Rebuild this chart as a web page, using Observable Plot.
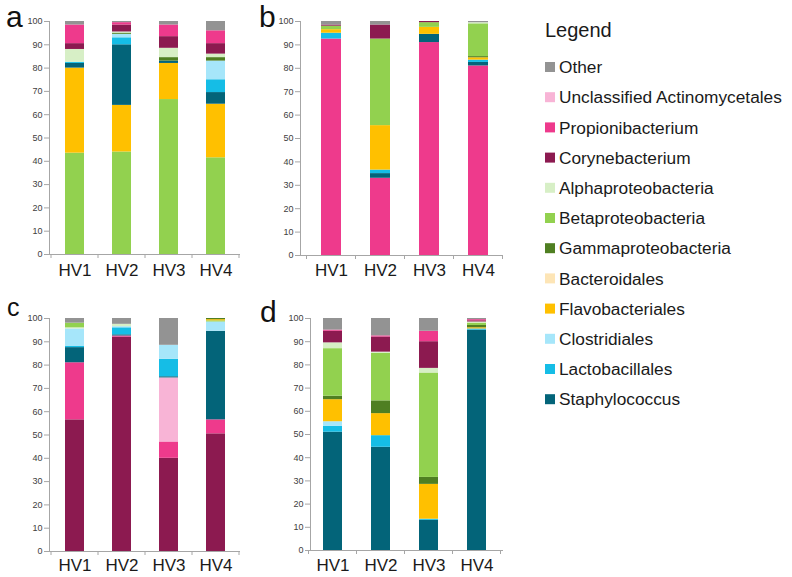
<!DOCTYPE html>
<html>
<head>
<meta charset="utf-8">
<script src="https://cdn.jsdelivr.net/npm/d3@7"></script>
<script src="https://cdn.jsdelivr.net/npm/@observablehq/plot@0.6"></script>
<style>
  body { margin: 0; background: #fff; }
  #chart { position: relative; width: 792px; height: 577px; font-family: "Liberation Sans", Arial, sans-serif; }
  #chart > svg, #chart > div { position: absolute; }
</style>
</head>
<body>
<div id="chart"></div>
<script>
// ---------- data ----------
const samples = ["HV1", "HV2", "HV3", "HV4"];
const yTicks = [0, 10, 20, 30, 40, 50, 60, 70, 80, 90, 100];

const taxa = ["Other", "Unclassified Actinomycetales", "Propionibacterium", "Corynebacterium",
  "Alphaproteobacteria", "Betaproteobacteria", "Gammaproteobacteria", "Bacteroidales",
  "Flavobacteriales", "Clostridiales", "Lactobacillales", "Staphylococcus"];
const taxonColors = ["#939393", "#f8b4d6", "#ee3a8c", "#8c1a50", "#d7efc6", "#92d14f",
  "#4f7f22", "#fde5b6", "#ffc000", "#a6e6fa", "#15bde6", "#036479"];

const panelLetters = ["a", "b", "c", "d"];

// panel a (bottom to top), values per sample HV1..HV4
const orderA = ["Betaproteobacteria", "Flavobacteriales", "Staphylococcus", "Lactobacillales",
  "Clostridiales", "Gammaproteobacteria", "Alphaproteobacteria", "Corynebacterium",
  "Propionibacterium", "Other"];
const valuesA = [
  [43.5, 44, 66.5, 41.5],
  [36.5, 20, 15.5, 23],
  [2, 26, 1, 5],
  [0.5, 3, 0, 5.5],
  [0, 1.5, 0, 8],
  [0, 0.5, 1.5, 1.5],
  [5.5, 0.5, 4, 1.5],
  [2.5, 3, 5, 4.5],
  [8, 1, 5, 5.5],
  [1.5, 0.5, 1.5, 4]
];

// panel b
const orderB = ["Propionibacterium", "Staphylococcus", "Lactobacillales", "Flavobacteriales",
  "Gammaproteobacteria", "Betaproteobacteria", "Alphaproteobacteria", "Corynebacterium", "Other"];
const valuesB = [
  [92.5, 33, 91, 81],
  [0, 2, 3.5, 1.5],
  [2.5, 1.5, 0, 1],
  [1.5, 19, 3, 1],
  [0, 0, 0, 0.5],
  [1.5, 37, 2, 14],
  [0, 0, 0, 0.5],
  [0.5, 6, 0.5, 0],
  [1.5, 1.5, 0, 0.5]
];

// panel c
const orderC = ["Corynebacterium", "Propionibacterium", "Unclassified Actinomycetales",
  "Staphylococcus", "Lactobacillales", "Clostridiales", "Alphaproteobacteria",
  "Betaproteobacteria", "Flavobacteriales", "Gammaproteobacteria", "Other"];
const valuesC = [
  [56.5, 92, 40, 50.5],
  [24.5, 0.5, 7, 6],
  [0, 0, 27.5, 0],
  [6.5, 0.5, 0.5, 38],
  [0.5, 3, 7.5, 0],
  [7.5, 0.5, 6, 4],
  [0.5, 1, 0, 0],
  [2, 0, 0, 0.5],
  [0, 0, 0, 0.5],
  [0, 0, 0, 0.5],
  [2, 2.5, 11.5, 0]
];

// panel d
const orderD = ["Staphylococcus", "Lactobacillales", "Clostridiales", "Flavobacteriales",
  "Bacteroidales", "Gammaproteobacteria", "Betaproteobacteria", "Alphaproteobacteria",
  "Corynebacterium", "Propionibacterium", "Other"];
const valuesD = [
  [51, 44.5, 13, 95],
  [2.5, 5, 0.5, 0.5],
  [2, 0, 0, 0],
  [9.5, 9.5, 15, 0.5],
  [0, 0, 0, 0],
  [1.5, 5.5, 3, 1],
  [20.5, 20.5, 45, 1],
  [2.5, 0.5, 2, 0.5],
  [5, 6.5, 11.5, 0.5],
  [0.5, 0.5, 4.5, 0.5],
  [5, 7.5, 5.5, 0.5]
];

// ---------- layout ----------
const layouts = [
  {left: 0,   top: 0,   width: 255, height: 290, mt: 21, mb: 36, ml: 49, mr: 15, po: 0.3,  align: 0.5,  pad: 9, lx: 6,   ly: 27,  ls: 30},
  {left: 250, top: 0,   width: 260, height: 290, mt: 21, mb: 35, ml: 50, mr: 8,  po: 0.35, align: 0.6,  pad: 8, lx: 259, ly: 27,  ls: 30},
  {left: 0,   top: 290, width: 255, height: 287, mt: 28, mb: 26, ml: 49, mr: 15, po: 0.3,  align: 0.5,  pad: 7, lx: 7,   ly: 316, ls: 25},
  {left: 250, top: 290, width: 260, height: 287, mt: 28, mb: 27, ml: 60, mr: 7,  po: 0.27, align: 0.44, pad: 8, lx: 260, ly: 322, ls: 30}
];
const panels = [[orderA, valuesA], [orderB, valuesB], [orderC, valuesC], [orderD, valuesD]];
const axisColor = "#a6a6a6";
const font = "'Liberation Sans', Arial, sans-serif";

const chart = document.getElementById("chart");

panels.forEach(([order, values], k) => {
  const L = layouts[k];
  const rows = order.flatMap((taxon, i) =>
    samples.map((s, j) => ({sample: s, taxon, value: values[i][j]}))
  ).filter(d => d.value > 0);

  const plot = Plot.plot({
    width: L.width,
    height: L.height,
    marginTop: L.mt,
    marginBottom: L.mb,
    marginLeft: L.ml,
    marginRight: L.mr,
    style: {fontFamily: font, background: "transparent", overflow: "visible"},
    x: {domain: samples, paddingInner: 0.6, paddingOuter: L.po, align: L.align, label: null},
    y: {domain: [0, 100], label: null},
    color: {domain: taxa, range: taxonColors},
    marks: [
      Plot.barY(rows, {x: "sample", y: "value", fill: "taxon", order}),
      Plot.ruleY([0], {stroke: axisColor}),
      Plot.frame({anchor: "left", stroke: axisColor}),
      Plot.axisY({ticks: yTicks, tickSize: 5, tickPadding: 2, fontSize: 9, fill: "#404040", stroke: axisColor, label: null}),
      Plot.axisX({tickSize: 0, tickPadding: L.pad, fontSize: 17, fill: "#1a1a1a", label: null})
    ]
  });

  // category separator ticks on the baseline, from the band scale
  const xs = plot.scale("x");
  const ys = plot.scale("y");
  const y0 = ys.apply(0);
  const gap = (xs.step - xs.bandwidth) / 2;
  const edges = samples.map(s => xs.apply(s) - gap);
  edges.push(xs.apply(samples[samples.length - 1]) + xs.bandwidth + gap);
  d3.select(plot).append("g")
    .selectAll("line").data(edges).join("line")
    .attr("x1", d => d).attr("x2", d => d)
    .attr("y1", y0).attr("y2", y0 + 4)
    .attr("stroke", axisColor);

  plot.style.left = L.left + "px";
  plot.style.top = L.top + "px";
  chart.appendChild(plot);
});

// panel letters
const overlay = d3.select(chart).append("svg")
  .attr("width", 792).attr("height", 577)
  .style("left", "0px").style("top", "0px")
  .style("pointer-events", "none");
overlay.selectAll("text").data(panelLetters).join("text")
  .attr("x", (d, i) => layouts[i].lx)
  .attr("y", (d, i) => layouts[i].ly)
  .attr("font-size", (d, i) => layouts[i].ls)
  .attr("font-family", font)
  .attr("fill", "#111")
  .text(d => d);

// legend
const legend = d3.select(chart).append("svg")
  .attr("width", 252).attr("height", 420)
  .style("left", "540px").style("top", "0px");
legend.append("text")
  .attr("x", 5).attr("y", 37)
  .attr("font-size", 20).attr("font-family", font).attr("fill", "#1a1a1a")
  .text("Legend");
const item = legend.selectAll("g.item").data(taxa).join("g")
  .attr("class", "item")
  .attr("transform", (d, i) => `translate(5, ${67 + i * 30.2})`);
item.append("rect")
  .attr("x", 0).attr("y", -5).attr("width", 10).attr("height", 10)
  .attr("fill", (d, i) => taxonColors[i]);
item.append("text")
  .attr("x", 14).attr("dy", "0.36em")
  .attr("font-size", 17.3).attr("font-family", font).attr("fill", "#1a1a1a")
  .text(d => d);
</script>
</body>
</html>
